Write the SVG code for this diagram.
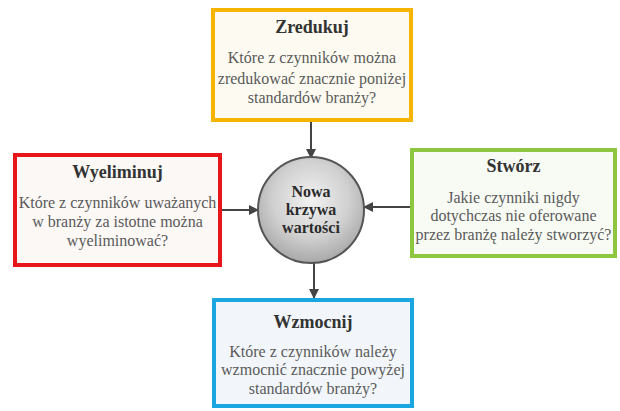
<svg xmlns="http://www.w3.org/2000/svg" width="620" height="411" viewBox="0 0 620 411">
<defs>
<radialGradient id="cg" cx="0.5" cy="0.4" r="0.6">
<stop offset="0" stop-color="#f2f2f2"/>
<stop offset="0.6" stop-color="#d0d0d0"/>
<stop offset="1" stop-color="#a8a8a8"/>
</radialGradient>
<marker id="ah" viewBox="0 0 10 10" refX="9" refY="5" markerWidth="10" markerHeight="10" markerUnits="userSpaceOnUse" orient="auto">
<path d="M0,0 L10,5 L0,10 z" fill="#444"/>
</marker>
<style>
.box{stroke-width:4}
.shadow{fill:#bbb;opacity:0.5}
.title{font-family:"Liberation Serif","Times New Roman",serif;font-weight:bold;font-size:18px;fill:#333;text-anchor:middle}
.body{font-family:"Liberation Serif","Times New Roman",serif;font-size:16px;fill:#5a5a5a;text-anchor:middle}
.ctext{font-family:"Liberation Serif","Times New Roman",serif;font-weight:bold;font-size:16px;fill:#2a2a2a;text-anchor:middle}
.conn{stroke:#444;stroke-width:2;fill:none;marker-end:url(#ah)}
</style>
</defs>
<rect width="620" height="411" fill="#ffffff"/>
<g id="connectors">
<line class="conn" x1="311" y1="122" x2="311" y2="158"/>
<line class="conn" x1="222" y1="210" x2="258" y2="210"/>
<line class="conn" x1="410" y1="207" x2="364" y2="207"/>
<line class="conn" x1="314" y1="263" x2="314" y2="298"/>
</g>
<g id="zredukuj">
<rect class="shadow" x="211" y="12" width="198" height="110"/>
<rect class="box" x="213" y="10" width="198" height="110" fill="#fdfbf1" stroke="#f5b400"/>
<text class="title" x="312" y="33">Zredukuj</text>
<text class="body" x="312" y="63">Które z czynników można</text>
<text class="body" x="312" y="84">zredukować znacznie poniżej</text>
<text class="body" x="312" y="103">standardów branży?</text>
</g>
<g id="wyeliminuj">
<rect class="shadow" x="13" y="157" width="205" height="110"/>
<rect class="box" x="15" y="155" width="205" height="110" fill="#fcf8f6" stroke="#e8161b"/>
<text class="title" x="117.5" y="178">Wyeliminuj</text>
<text class="body" x="117.5" y="208">Które z czynników uważanych</text>
<text class="body" x="117.5" y="227">w branży za istotne można</text>
<text class="body" x="117.5" y="246">wyeliminować?</text>
</g>
<g id="stworz">
<rect class="shadow" x="410" y="152" width="203" height="106"/>
<rect class="box" x="412" y="150" width="203" height="106" fill="#f8faf4" stroke="#8dc63f"/>
<text class="title" x="513.5" y="172">Stwórz</text>
<text class="body" x="513.5" y="203">Jakie czynniki nigdy</text>
<text class="body" x="513.5" y="221">dotychczas nie oferowane</text>
<text class="body" x="513.5" y="240">przez branżę należy stworzyć?</text>
</g>
<g id="wzmocnij">
<rect class="shadow" x="212" y="302" width="198" height="106"/>
<rect class="box" x="214" y="300" width="198" height="106" fill="#f2f6fa" stroke="#1ba6df"/>
<text class="title" x="313" y="328">Wzmocnij</text>
<text class="body" x="313" y="357">Które z czynników należy</text>
<text class="body" x="313" y="375">wzmocnić znacznie powyżej</text>
<text class="body" x="313" y="394">standardów branży?</text>
</g>
<g id="nowa-krzywa">
<circle cx="311" cy="210" r="53" fill="url(#cg)" stroke="#555" stroke-width="2"/>
<text class="ctext" x="311" y="197">Nowa</text>
<text class="ctext" x="311" y="215">krzywa</text>
<text class="ctext" x="311" y="233">wartości</text>
</g>
</svg>
